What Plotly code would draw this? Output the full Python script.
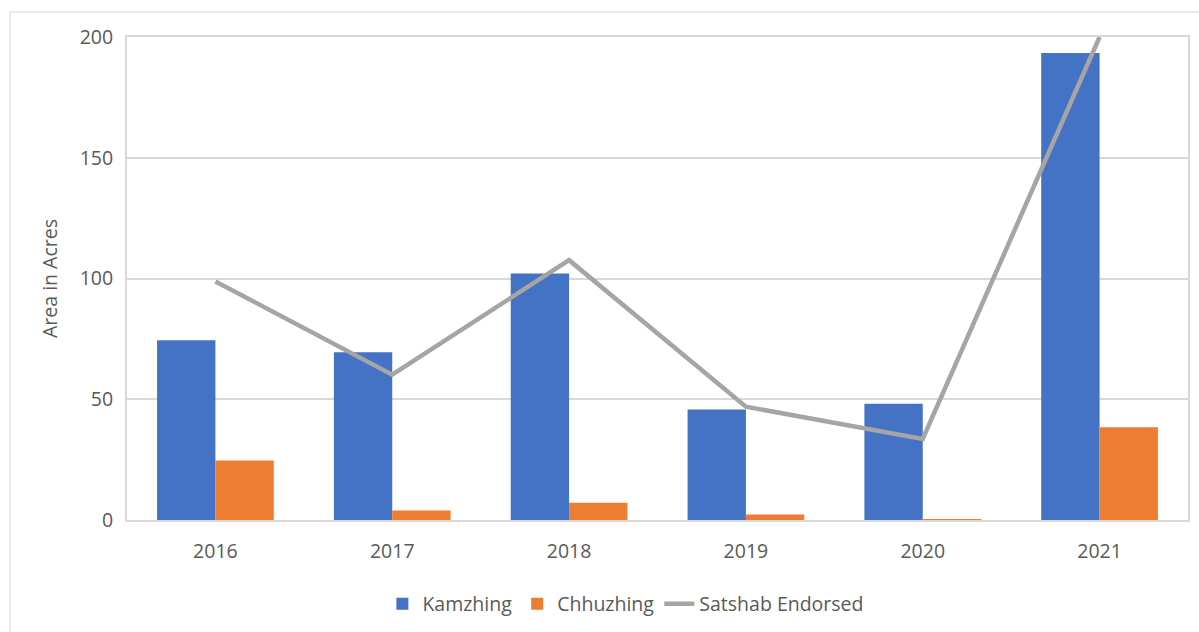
import plotly.graph_objects as go

# Area (acres) by year
years = ["2016", "2017", "2018", "2019", "2020", "2021"]
kamzhing = [74.4, 69.5, 102.1, 45.8, 48.1, 193.4]
chhuzhing = [24.6, 3.9, 7.1, 2.3, 0.4, 38.4]
satshab_endorsed = [98.8, 60.2, 107.6, 46.9, 33.6, 200.0]

y_ticks = [0, 50, 100, 150, 200]

FONT = "Open Sans"
TEXT = "#595959"
GRID = "#D9D9D9"
FS = 19.5

fig = go.Figure()
fig.add_trace(go.Bar(name="Kamzhing", x=years, y=kamzhing,
                     marker=dict(color="#4472C4", line=dict(width=0))))
fig.add_trace(go.Bar(name="Chhuzhing", x=years, y=chhuzhing,
                     marker=dict(color="#ED7D31", line=dict(width=0))))
fig.add_trace(go.Scatter(name="Satshab Endorsed", x=years, y=satshab_endorsed,
                         mode="lines", line=dict(color="#A5A5A5", width=4.5),
                         cliponaxis=False))

fig.update_layout(
    width=1199, height=632,
    margin=dict(l=127, r=11, t=37, b=112, autoexpand=False),
    paper_bgcolor="white", plot_bgcolor="white",
    barmode="group", bargap=0.34, bargroupgap=0,
    font=dict(family=FONT, size=FS, color=TEXT),
    showlegend=True,
    legend=dict(orientation="h", xref="container", x=0.522, xanchor="center",
                yref="container", y=0.044, yanchor="middle",
                font=dict(family=FONT, size=FS, color=TEXT),
                itemwidth=30, traceorder="normal"),
    xaxis=dict(showgrid=False, showline=True, linecolor=GRID, linewidth=2,
               mirror=True, ticks="", ticklabelstandoff=13,
               tickfont=dict(size=FS, color=TEXT)),
    yaxis=dict(range=[0, 200], tickvals=y_ticks, showgrid=True,
               gridcolor=GRID, gridwidth=1.5, showline=True,
               linecolor=GRID, linewidth=2, mirror=True, ticks="",
               ticklabelstandoff=8, zeroline=False,
               tickfont=dict(size=FS, color=TEXT),
               title=dict(text="Area in Acres", standoff=17,
                          font=dict(size=FS, color=TEXT))),
    shapes=[dict(type="rect", xref="paper", yref="paper",
                 x0=-0.1103, x1=1.2, y0=-0.5, y1=1.0517,
                 line=dict(color="#E3E3E3", width=1.5), layer="below")],
)

fig.write_html("out.html")
